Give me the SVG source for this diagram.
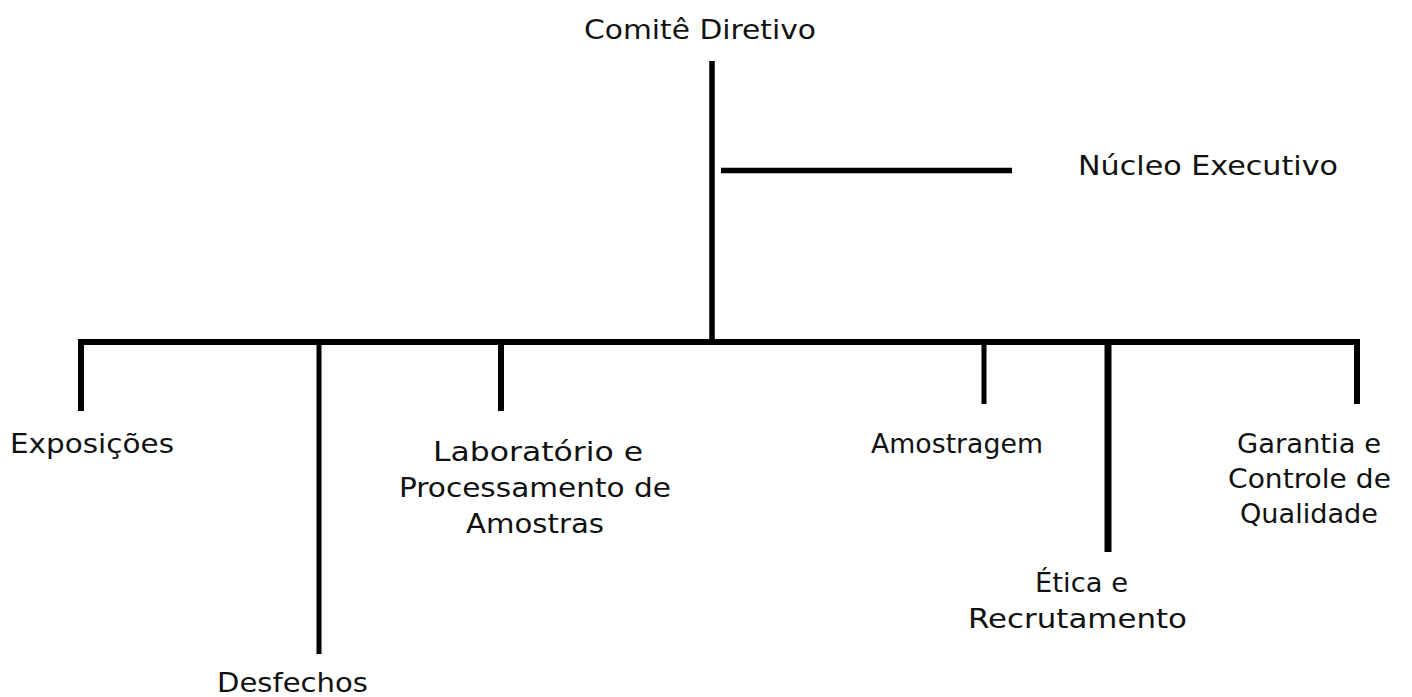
<svg xmlns="http://www.w3.org/2000/svg" width="1412" height="697" viewBox="0 0 1412 697">
<style>
.c{stroke:#000;stroke-width:6;fill:none;stroke-linecap:butt}
.t{font-family:"DejaVu Sans","Liberation Sans",sans-serif;font-size:27px;fill:#111;text-anchor:middle}
</style>
<rect width="1412" height="697" fill="#fff"/>
<g id="connectors">
<line class="c" x1="712" y1="61" x2="712" y2="345" style="stroke-width:5.5"/>
<line class="c" x1="721" y1="170.5" x2="1012" y2="170.5" style="stroke-width:5.5"/>
<line class="c" x1="78" y1="342" x2="1360" y2="342"/>
<line class="c" x1="81" y1="342" x2="81" y2="411"/>
<line class="c" x1="319" y1="342" x2="319" y2="654" style="stroke-width:5"/>
<line class="c" x1="501" y1="342" x2="501" y2="411"/>
<line class="c" x1="984" y1="342" x2="984" y2="404" style="stroke-width:5"/>
<line class="c" x1="1108" y1="342" x2="1108" y2="552" style="stroke-width:7"/>
<line class="c" x1="1357" y1="342" x2="1357" y2="404"/>
</g>
<g id="comite"><text class="t" x="700" y="39" textLength="232" lengthAdjust="spacingAndGlyphs">Comitê Diretivo</text></g>
<g id="nucleo"><text class="t" x="1208" y="175" textLength="260" lengthAdjust="spacingAndGlyphs">Núcleo Executivo</text></g>
<g id="exposicoes"><text class="t" x="92" y="453" textLength="164" lengthAdjust="spacingAndGlyphs">Exposições</text></g>
<g id="desfechos"><text class="t" x="292.5" y="692" textLength="151" lengthAdjust="spacingAndGlyphs">Desfechos</text></g>
<g id="laboratorio">
<text class="t" x="538" y="461" textLength="210" lengthAdjust="spacingAndGlyphs">Laboratório e</text>
<text class="t" x="535" y="497" textLength="272" lengthAdjust="spacingAndGlyphs">Processamento de</text>
<text class="t" x="535" y="533" textLength="138" lengthAdjust="spacingAndGlyphs">Amostras</text>
</g>
<g id="amostragem"><text class="t" x="957" y="453" textLength="172" lengthAdjust="spacingAndGlyphs">Amostragem</text></g>
<g id="etica">
<text class="t" x="1081.5" y="592" textLength="93" lengthAdjust="spacingAndGlyphs">Ética e</text>
<text class="t" x="1077.5" y="628" textLength="219" lengthAdjust="spacingAndGlyphs">Recrutamento</text>
</g>
<g id="garantia">
<text class="t" x="1309" y="453" textLength="144" lengthAdjust="spacingAndGlyphs">Garantia e</text>
<text class="t" x="1309.5" y="488" textLength="163" lengthAdjust="spacingAndGlyphs">Controle de</text>
<text class="t" x="1309" y="523" textLength="138" lengthAdjust="spacingAndGlyphs">Qualidade</text>
</g>
</svg>
